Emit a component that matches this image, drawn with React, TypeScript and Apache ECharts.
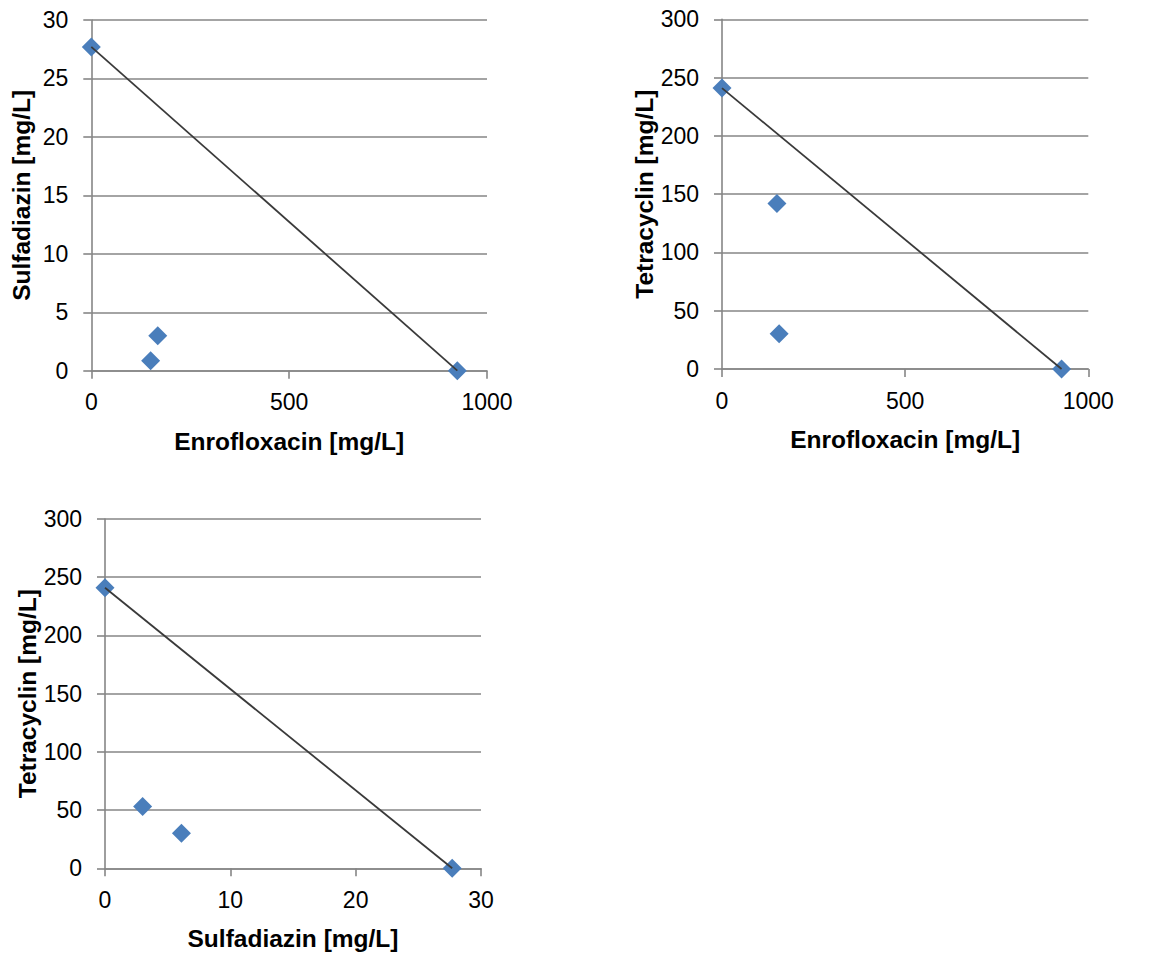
import React, { useEffect, useRef } from "react";
import * as echarts from "echarts";

// Chart 1: Enrofloxacin vs Sulfadiazin
const enroA = [0, 150, 168, 925];
const sulfA = [27.7, 0.86, 3.0, 0];
const trendA = [[0, 27.7], [925, 0]];

// Chart 2: Enrofloxacin vs Tetracyclin
const enroB = [0, 150, 156, 927];
const tetraB = [241, 142, 30.3, 0];
const trendB = [[0, 241], [927, 0]];

// Chart 3: Sulfadiazin vs Tetracyclin
const sulfC = [0, 3.0, 6.1, 27.7];
const tetraC = [241, 53, 30, 0];
const trendC = [[0, 241], [27.7, 0]];

const xTitles = ["Enrofloxacin [mg/L]", "Enrofloxacin [mg/L]", "Sulfadiazin [mg/L]"];
const yTitles = ["Sulfadiazin [mg/L]", "Tetracyclin [mg/L]", "Tetracyclin [mg/L]"];
const xRanges = [[0, 1000, 500], [0, 1000, 500], [0, 30, 10]];
const yRanges = [[0, 30, 5], [0, 300, 50], [0, 300, 50]];

const FONT = "'Liberation Sans', Arial, sans-serif";
const GRAY = "#868686";
const BLUE = "#4A7EBB";

export default function App() {
  const ref = useRef<HTMLDivElement>(null);
  useEffect(() => {
    if (!ref.current) return;
    const chart = echarts.init(ref.current, undefined, { renderer: "svg" });
    const grids = [
      { left: 91.3, top: 20, width: 395.7, height: 350.7 },
      { left: 722, top: 19.3, width: 366.3, height: 349.7 },
      { left: 105, top: 519, width: 376, height: 349.3 },
    ];
    const fmt = (v: number) => String(v);
    const xAxis = grids.map((_, i) => ({
      type: "value",
      gridIndex: i,
      min: xRanges[i][0],
      max: xRanges[i][1],
      interval: xRanges[i][2],
      name: xTitles[i],
      nameLocation: "middle",
      nameGap: 58,
      nameTextStyle: { fontFamily: FONT, fontSize: 24.5, fontWeight: "bold", color: "#000" },
      axisLine: { show: true, onZero: false, lineStyle: { color: GRAY, width: 1.6 } },
      axisTick: { show: true, inside: false, length: 8, lineStyle: { color: GRAY, width: 1.6 } },
      axisLabel: { fontFamily: FONT, fontSize: 23, color: "#000", margin: 20, formatter: fmt },
      splitLine: { show: false },
    }));
    const yAxis = grids.map((_, i) => ({
      type: "value",
      gridIndex: i,
      min: yRanges[i][0],
      max: yRanges[i][1],
      interval: yRanges[i][2],
      name: yTitles[i],
      nameLocation: "middle",
      nameGap: 57,
      nameTextStyle: { fontFamily: FONT, fontSize: 24.5, fontWeight: "bold", color: "#000" },
      axisLine: { show: true, onZero: false, lineStyle: { color: GRAY, width: 1.6 } },
      axisTick: { show: true, inside: false, length: 8, lineStyle: { color: GRAY, width: 1.6 } },
      axisLabel: { fontFamily: FONT, fontSize: 23, color: "#000", margin: 23, formatter: fmt },
      splitLine: { show: true, lineStyle: { color: GRAY, width: 1.6 } },
    }));
    const pts = [
      enroA.map((x, k) => [x, sulfA[k]]),
      enroB.map((x, k) => [x, tetraB[k]]),
      sulfC.map((x, k) => [x, tetraC[k]]),
    ];
    const trends = [trendA, trendB, trendC];
    const series: any[] = [];
    for (let i = 0; i < 3; i++) {
      series.push({
        type: "scatter",
        xAxisIndex: i,
        yAxisIndex: i,
        data: pts[i],
        symbol: "diamond",
        symbolSize: 19,
        itemStyle: { color: BLUE, opacity: 1 },
        z: 2,
      });
      series.push({
        type: "line",
        xAxisIndex: i,
        yAxisIndex: i,
        data: trends[i],
        showSymbol: false,
        symbol: "none",
        lineStyle: { color: "#3a3a3a", width: 1.8 },
        z: 3,
      });
    }
    chart.setOption({
      animation: false,
      backgroundColor: "#fff",
      grid: grids,
      xAxis,
      yAxis,
      series,
    });
    return () => chart.dispose();
  }, []);
  return (
    <div
      ref={ref}
      style={{ position: "fixed", left: 0, top: 0, width: 1164, height: 956 }}
    />
  );
}
